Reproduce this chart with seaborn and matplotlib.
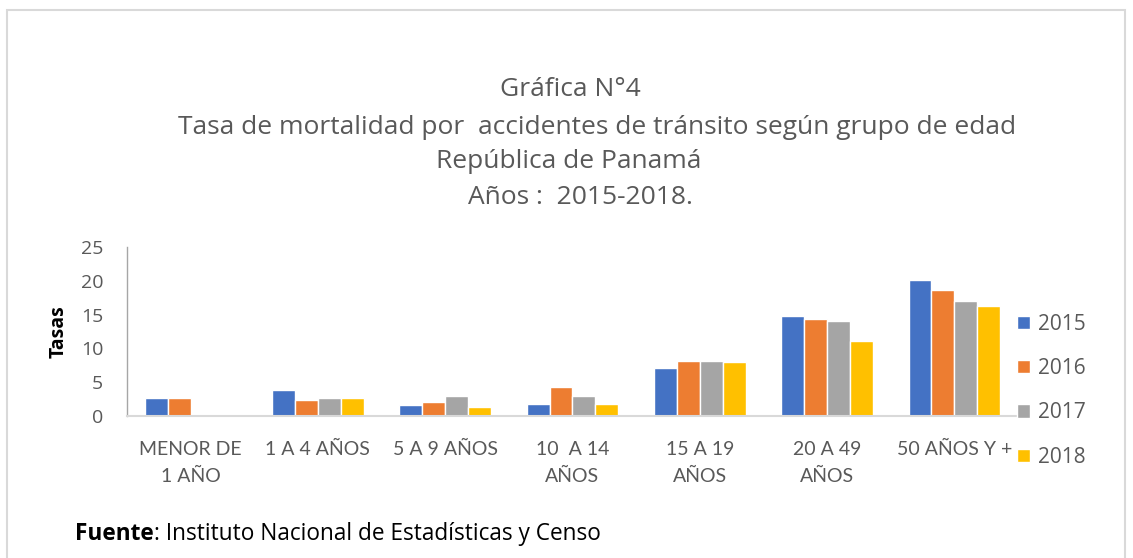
import pandas as pd
import matplotlib.pyplot as plt
import seaborn as sns
from matplotlib.patches import Rectangle

# Age groups and yearly rates
grupos = ['MENOR DE\n1 AÑO', '1 A 4 AÑOS', '5 A 9 AÑOS', '10  A 14\nAÑOS',
          '15 A 19\nAÑOS', '20 A 49\nAÑOS', '50 AÑOS Y +']
anios = ['2015', '2016', '2017', '2018']
tasa_2015 = [2.6, 3.9, 1.6, 1.8, 7.1, 14.8, 20.2]
tasa_2016 = [2.6, 2.3, 2.1, 4.3, 8.2, 14.4, 18.6]
tasa_2017 = [0.0, 2.6, 2.9, 2.9, 8.1, 14.1, 17.1]
tasa_2018 = [0.0, 2.6, 1.3, 1.8, 8.0, 11.1, 16.3]

titulo = ['Gráfica N°4',
          'Tasa de mortalidad por  accidentes de tránsito según grupo de edad',
          'República de Panamá',
          'Años :  2015-2018.']

colores = ['#4472C4', '#ED7D31', '#A5A5A5', '#FFC000']
gris_txt = '#595959'
narrow = ['Lato', 'DejaVu Sans']

# long format for seaborn
rows = []
for anio, vals in zip(anios, [tasa_2015, tasa_2016, tasa_2017, tasa_2018]):
    for g, v in zip(grupos, vals):
        rows.append({'grupo': g, 'anio': anio, 'tasa': v})
df = pd.DataFrame(rows)

sns.set_style('white')
plt.rcParams['font.family'] = ['Open Sans', 'DejaVu Sans']

fig = plt.figure(figsize=(11.33, 5.58), dpi=100)
ax = fig.add_axes([0.112, 0.2545, 0.7865, 0.3025])

sns.barplot(data=df, x='grupo', y='tasa', hue='anio', palette=colores,
            width=0.72, saturation=1, ax=ax, legend=True)

ax.set_ylim(0, 25)
ax.set_yticks([0, 5, 10, 15, 20, 25])
ax.set_xlim(-0.5, len(grupos) - 0.5)
ax.tick_params(axis='y', labelsize=14, labelcolor=gris_txt, length=0, pad=17)
ax.tick_params(axis='x', labelsize=14, labelcolor=gris_txt, length=0, pad=18)
for lbl in ax.get_xticklabels():
    lbl.set_family(narrow)
    lbl.set_linespacing(1.7)
ax.set_xlabel('')
ax.set_ylabel('Tasas', fontsize=14, fontweight='bold', color='black', labelpad=9)

for s in ['top', 'right']:
    ax.spines[s].set_visible(False)
ax.spines['left'].set_color('#A6A6A6')
ax.spines['left'].set_linewidth(1)
ax.spines['bottom'].set_color('#D9D9D9')
ax.spines['bottom'].set_linewidth(1.5)

leg = ax.legend(loc='center left', bbox_to_anchor=(0.990, 0.15), frameon=False,
                fontsize=15, handlelength=0.6, handleheight=0.6, labelspacing=1.12,
                handletextpad=0.4, borderaxespad=0.0)
for t in leg.get_texts():
    t.set_color(gris_txt)

# title lines, each centred as in the reference
centros_x = [570, 597, 569, 580]
centros_y = [90, 127, 162, 197]
for linea, cx, cy in zip(titulo, centros_x, centros_y):
    fig.text(cx / 1133, 1 - cy / 558, linea, ha='center', va='center',
             fontsize=19, color=gris_txt)

# source note: bold label followed by plain text
t1 = fig.text(0.066, 0.032, 'Fuente', fontsize=16.3, color='black', fontweight='bold')
fig.canvas.draw()
bb = t1.get_window_extent()
fig.text(bb.x1 / fig.bbox.width, 0.032, ': Instituto Nacional de Estadísticas y Censo',
         fontsize=16.3, color='black')

fig.patches.append(Rectangle((7 / 1133, -0.05), 1118 / 1133, 1 - 10 / 558 + 0.05,
                             transform=fig.transFigure, fill=False,
                             edgecolor='#D9D9D9', linewidth=1.5))

fig.savefig('out.png', dpi=100)
